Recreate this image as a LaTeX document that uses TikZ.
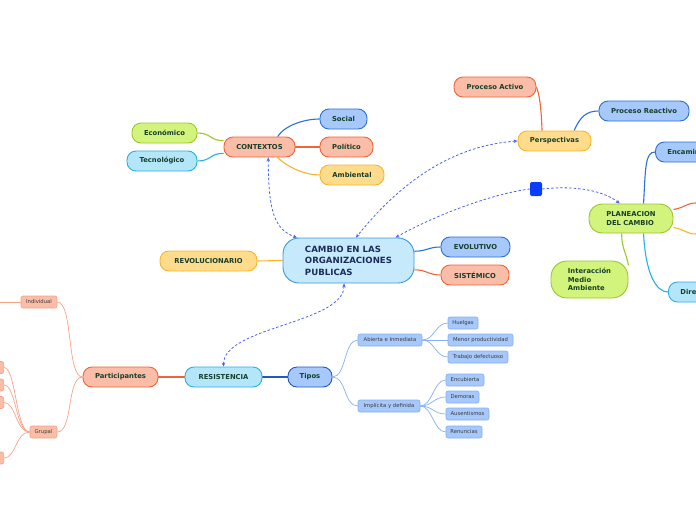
\documentclass[tikz,border=0pt]{standalone}
\usepackage{fontspec}
\setmainfont{DejaVu Sans}
\usetikzlibrary{arrows.meta,backgrounds}
\definecolor{salmonfill}{HTML}{F9BDA8}
\definecolor{salmonline}{HTML}{F0643A}
\definecolor{limefill}{HTML}{D2F47C}
\definecolor{limeline}{HTML}{9CC62E}
\definecolor{cyanfill}{HTML}{B4E6FA}
\definecolor{cyanline}{HTML}{2AAEE4}
\definecolor{bluefill}{HTML}{A6C8FB}
\definecolor{blueline}{HTML}{2C6FD8}
\definecolor{deepblue}{HTML}{2458BE}
\definecolor{yellowfill}{HTML}{FFDC8C}
\definecolor{yellowline}{HTML}{F8B52C}
\definecolor{corefill}{HTML}{C6EAFB}
\definecolor{coreline}{HTML}{3A98DE}
\definecolor{coretext}{HTML}{1C2B5C}
\definecolor{topictext}{HTML}{173F2C}
\definecolor{leaftext}{HTML}{3A3A3A}
\definecolor{leafblue}{HTML}{86B0F2}
\definecolor{leafsalmon}{HTML}{F7A386}
\definecolor{relblue}{HTML}{4A63EE}
\definecolor{relsquare}{HTML}{0A3CFF}

\begin{document}
\begin{tikzpicture}[x=1pt, y=-1pt,
  topic/.style={rounded corners=9pt, minimum height=20pt, inner sep=1pt, line width=0.9pt,
    text=topictext, font=\fontsize{6.8}{9}\selectfont\bfseries},
  salmontopic/.style={topic, fill=salmonfill, draw=salmonline},
  limetopic/.style={topic, fill=limefill, draw=limeline},
  cyantopic/.style={topic, fill=cyanfill, draw=cyanline},
  bluetopic/.style={topic, fill=bluefill, draw=blueline},
  yellowtopic/.style={topic, fill=yellowfill, draw=yellowline},
  core/.style={rounded corners=16pt, fill=corefill, draw=coreline, line width=0.9pt,
    minimum width=131pt, minimum height=45pt, align=left, text=coretext,
    font=\fontsize{8.6}{11.5}\selectfont\bfseries},
  leaf/.style={rounded corners=2pt, minimum height=12pt, inner sep=1pt, line width=0.6pt,
    text=leaftext, font=\fontsize{5.3}{6}\selectfont},
  blueleaf/.style={leaf, fill=bluefill, draw=leafblue},
  salmonleaf/.style={leaf, fill=salmonfill, draw=leafsalmon},
  branch/.style={line width=1.1pt},
  twig/.style={line width=0.7pt},
  relation/.style={draw=relblue, line width=0.8pt, dash pattern=on 2.5pt off 2pt, >={Stealth[length=4pt,width=3.5pt]}}
]
  \useasboundingbox (0,0) rectangle (696,520);
  \clip (0,0) rectangle (696,520);
  % centre
  \node[core] (cen) at (348.5,260.5) {CAMBIO EN LAS\\ORGANIZACIONES\\PUBLICAS};
  \node[bluetopic, minimum width=69pt] (evo) at (475.5,247) {EVOLUTIVO};
  \node[salmontopic, minimum width=68pt] (sis) at (475,275) {SISTÉMICO};
  \node[yellowtopic, minimum width=97pt] (rev) at (208.5,261) {REVOLUCIONARIO};
  % contextos
  \node[salmontopic, minimum width=71pt] (ctx) at (259.5,147) {CONTEXTOS};
  \node[limetopic, minimum width=65pt] (eco) at (164.5,133) {Económico};
  \node[cyantopic, minimum width=70pt] (tec) at (162,161) {Tecnológico};
  \node[bluetopic, minimum width=47pt] (soc) at (343.5,119) {Social};
  \node[salmontopic, minimum width=53pt] (pol) at (346.5,147) {Político};
  \node[yellowtopic, minimum width=64pt] (amb) at (352,175) {Ambiental};
  % perspectivas
  \node[yellowtopic, minimum width=73pt] (persp) at (554.5,141) {Perspectivas};
  \node[salmontopic, minimum width=82pt] (pact) at (495,87) {Proceso Activo};
  \node[bluetopic, minimum width=90pt] (prea) at (644,111) {Proceso Reactivo};
  % planeacion
  \node[rounded corners=2pt, fill=relsquare, minimum width=12pt, minimum height=14pt, inner sep=0pt] (sq) at (536,189) {};
  \node[limetopic, minimum width=84pt, minimum height=29pt, rounded corners=13pt, align=left] (plan) at (631,218.5) {PLANEACION\\DEL CAMBIO};
  \node[bluetopic, anchor=west, inner xsep=12pt] (enc) at (655,152) {Encaminamiento};
  \node[cyantopic, anchor=west, inner xsep=12pt] (dir) at (668,292) {Dirección};
  \node[limetopic, minimum width=77pt, minimum height=37pt, rounded corners=16pt, align=left,
    font=\fontsize{6.8}{8.5}\selectfont\bfseries] (inter) at (589.5,279.5) {Interacción\\Medio\\Ambiente};
  \coordinate (planR1) at (696,203);
  \coordinate (planR2) at (696,234);
  % resistencia
  \node[cyantopic, minimum width=77pt] (res) at (223.5,377) {RESISTENCIA};
  \node[bluetopic, minimum width=44pt, draw=deepblue] (tip) at (310,377) {Tipos};
  \node[salmontopic, minimum width=75pt] (part) at (120.5,377) {Participantes};
  \node[salmonleaf, minimum width=36pt] (ind) at (39,302) {Individual};
  \node[salmonleaf, minimum width=27pt] (gru) at (43.5,432) {Grupal};
  \node[salmonleaf, minimum width=30pt, anchor=east] (g1) at (4,367.5) {};
  \node[salmonleaf, minimum width=30pt, anchor=east] (g2) at (4,385) {};
  \node[salmonleaf, minimum width=30pt, anchor=east] (g3) at (4,402.5) {};
  \node[salmonleaf, minimum width=30pt, anchor=east] (g4) at (4,458) {};
  \coordinate (indL) at (0,302);
  \node[blueleaf, minimum width=64pt] (abi) at (390,340) {Abierta e Inmediata};
  \node[blueleaf, minimum width=62pt] (imp) at (389,406) {Implícita y definida};
  \node[blueleaf, minimum width=30pt] (hue) at (463,323) {Huelgas};
  \node[blueleaf, minimum width=65pt] (men) at (480.5,340) {Menor productividad};
  \node[blueleaf, minimum width=60pt] (tra) at (478,357) {Trabajo defectuoso};
  \node[blueleaf, minimum width=38pt] (encu) at (465,380) {Encubierta};
  \node[blueleaf, minimum width=33pt] (dem) at (462.5,397) {Demoras};
  \node[blueleaf, minimum width=43pt] (aus) at (467.5,414) {Ausentismos};
  \node[blueleaf, minimum width=36pt] (ren) at (464,432) {Renuncias};
  \begin{scope}[on background layer]
    % branches of the centre
    \draw[branch, blueline] (cen.8) .. controls +(12,0) and +(-12,0) .. (evo.west);
    \draw[branch, salmonline] (cen.-8) .. controls +(12,0) and +(-12,0) .. (sis.west);
    \draw[branch, yellowline] (cen.west) -- (rev.east);
    % contextos
    \draw[branch, limeline] (ctx.170) .. controls +(-14,0) and +(14,0) .. (eco.east);
    \draw[branch, cyanline] (ctx.190) .. controls +(-14,0) and +(14,0) .. (tec.east);
    \draw[branch, blueline] (ctx.30) .. controls +(8,-12) and +(-14,0) .. (soc.west);
    \draw[branch, salmonline] (ctx.east) -- (pol.west);
    \draw[branch, yellowline] (ctx.-30) .. controls +(10,10) and +(-14,0) .. (amb.west);
    % perspectivas
    \draw[branch, salmonline] (persp.140) .. controls +(-1,-25) and +(3,8) .. (pact.east);
    \draw[branch, blueline] (persp.28) .. controls +(6,-14) and +(-12,0) .. (prea.west);
    % planeacion
    \draw[branch, blueline] (plan.50) .. controls +(2,-35) and +(-10,0) .. (enc.west);
    \draw[branch, cyanline] (plan.-50) .. controls +(2,40) and +(-12,0) .. (dir.west);
    \draw[branch, limeline] (plan.-122) .. controls +(0,15) and +(-2,-12) .. (inter.20);
    \draw[branch, salmonline] (plan.12) .. controls +(12,-2) and +(-10,0) .. (planR1);
    \draw[branch, yellowline] (plan.-12) .. controls +(12,2) and +(-10,0) .. (planR2);
    % resistencia
    \draw[branch, salmonline] (res.west) -- (part.east);
    \draw[branch, deepblue] (res.east) -- (tip.west);
    \draw[twig, leafblue] (tip.east) .. controls +(14,0) and +(-14,0) .. (abi.west);
    \draw[twig, leafblue] (tip.east) .. controls +(14,0) and +(-14,0) .. (imp.west);
    \draw[twig, leafblue] (abi.east) .. controls +(12,0) and +(-12,0) .. (hue.west);
    \draw[twig, leafblue] (abi.east) -- (men.west);
    \draw[twig, leafblue] (abi.east) .. controls +(12,0) and +(-12,0) .. (tra.west);
    \draw[twig, leafblue] (imp.east) .. controls +(12,0) and +(-12,0) .. (encu.west);
    \draw[twig, leafblue] (imp.east) .. controls +(12,0) and +(-12,0) .. (dem.west);
    \draw[twig, leafblue] (imp.east) .. controls +(12,0) and +(-12,0) .. (aus.west);
    \draw[twig, leafblue] (imp.east) .. controls +(12,0) and +(-12,0) .. (ren.west);
    \draw[twig, leafsalmon] (part.west) .. controls +(-16,0) and +(16,0) .. (ind.east);
    \draw[twig, leafsalmon] (part.west) .. controls +(-16,0) and +(16,0) .. (gru.east);
    \draw[twig, leafsalmon] (ind.west) -- (indL);
    \draw[twig, leafsalmon] (gru.west) .. controls +(-14,0) and +(12,0) .. (g1.east);
    \draw[twig, leafsalmon] (gru.west) .. controls +(-14,0) and +(12,0) .. (g2.east);
    \draw[twig, leafsalmon] (gru.west) .. controls +(-14,0) and +(12,0) .. (g3.east);
    \draw[twig, leafsalmon] (gru.west) .. controls +(-14,0) and +(12,0) .. (g4.east);
  \end{scope}
  % relations
  \draw[relation, <->] (ctx.-50) .. controls +(0,55) and +(-22,-8) .. (cen.156);
  \draw[relation, <->] (persp.west) .. controls +(-70,5) and +(40,-50) .. (cen.72);
  \draw[relation, ->] (sq.west) .. controls +(-40,5) and +(35,-20) .. (cen.26);
  \draw[relation, ->] (sq.east) .. controls +(35,-4) and +(-15,-12) .. (plan.127);
  \draw[relation, <->] (res.north) .. controls +(0,-40) and +(0,40) .. (cen.-101);
\end{tikzpicture}
\end{document}
